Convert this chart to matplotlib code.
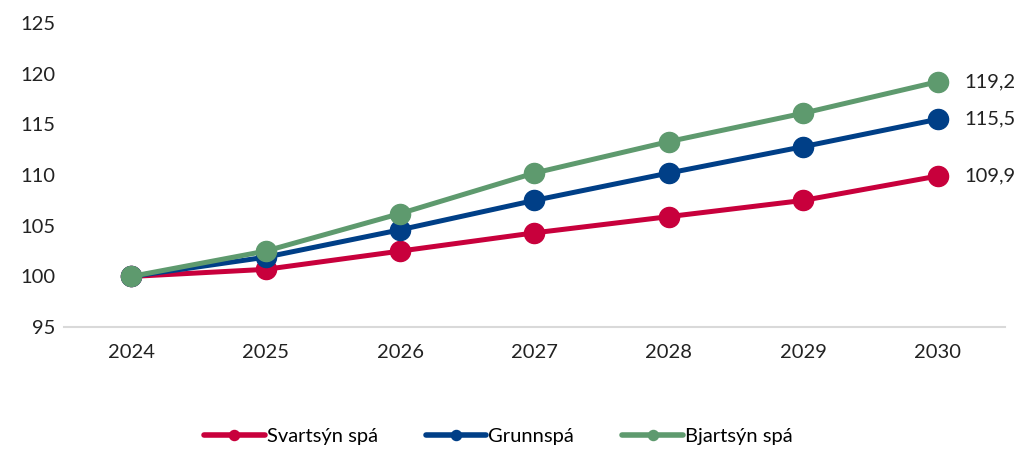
import matplotlib.pyplot as plt

plt.rcParams['font.family'] = ['Lato', 'DejaVu Sans']

YEARS = ['2024', '2025', '2026', '2027', '2028', '2029', '2030']
SVARTSYN = [100.0, 100.7, 102.5, 104.3, 105.9, 107.5, 109.9]
GRUNNSPA = [100.0, 101.9, 104.6, 107.5, 110.2, 112.8, 115.5]
BJARTSYN = [100.0, 102.5, 106.2, 110.2, 113.3, 116.1, 119.2]

SERIES = [
    ('Svartsýn spá', SVARTSYN, '#C8003C'),
    ('Grunnspá', GRUNNSPA, '#003F87'),
    ('Bjartsýn spá', BJARTSYN, '#5E9A6E'),
]

fig = plt.figure(figsize=(10.17, 4.5), dpi=100)
ax = fig.add_axes([0.063, 0.273, 0.925, 0.676])

x = list(range(len(YEARS)))
for label, values, color in SERIES:
    ax.plot(x, values, color=color, linewidth=3.6, marker='o', markersize=14.5,
            label=label, solid_capstyle='round')
    ax.text(x[-1] + 0.2, values[-1], f'{values[-1]:.1f}'.replace('.', ','),
            va='center', ha='left', fontsize=14.5, color='#222222')

ax.set_xlim(-0.5, len(YEARS) - 0.5)
ax.set_ylim(95, 125)
ax.set_yticks(range(95, 126, 5))
ax.set_xticks(x)
ax.set_xticklabels(YEARS)
ax.tick_params(axis='both', length=0, labelsize=14.5, colors='#222222')
ax.tick_params(axis='x', pad=12)
ax.tick_params(axis='y', pad=6)
for side in ['top', 'right', 'left']:
    ax.spines[side].set_visible(False)
ax.spines['bottom'].set_color('#D9D9D9')
ax.spines['bottom'].set_linewidth(1.5)

handles, labels = ax.get_legend_handles_labels()
leg = fig.legend(handles, labels, loc='lower center', bbox_to_anchor=(0.49, -0.03),
                 ncol=3, frameon=False, fontsize=14.5, handlelength=3.0,
                 handletextpad=0.1, columnspacing=2.4, markerscale=0.5)
for line in leg.get_lines():
    line.set_linewidth(4)

fig.savefig('out.png', dpi=100)
